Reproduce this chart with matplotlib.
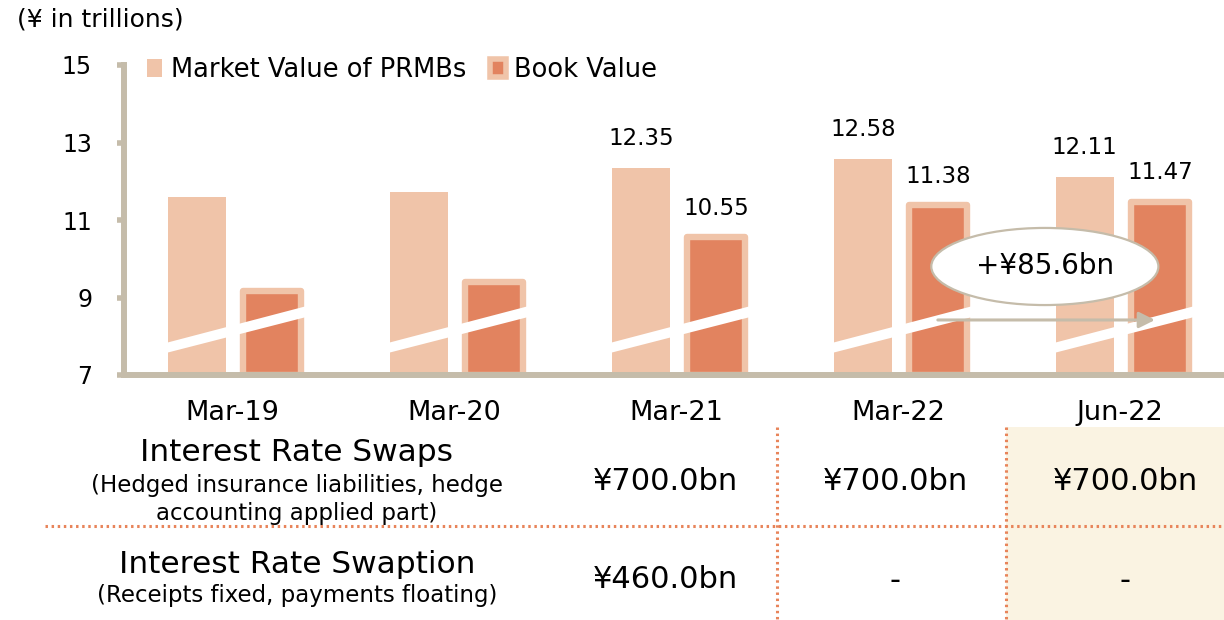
import matplotlib
matplotlib.use("Agg")
import matplotlib.pyplot as plt
from matplotlib.patches import Ellipse, Patch, Rectangle, Polygon
from matplotlib.lines import Line2D

# ---------------- data ----------------
categories = ['Mar-19', 'Mar-20', 'Mar-21', 'Mar-22', 'Jun-22']
market_value = [11.59, 11.73, 12.35, 12.58, 12.11]
book_value = [9.17, 9.40, 10.55, 11.38, 11.47]
show_labels = [False, False, True, True, True]
yticks = [7, 9, 11, 13, 15]
diff_label = '+¥85.6bn'

table_cols = ['Mar-21', 'Mar-22', 'Jun-22']
swaps_values = ['¥700.0bn', '¥700.0bn', '¥700.0bn']
swaption_values = ['¥460.0bn', '-', '-']
swaps_title = 'Interest Rate Swaps'
swaps_sub = ['(Hedged insurance liabilities, hedge', 'accounting applied part)']
swaption_title = 'Interest Rate Swaption'
swaption_sub = ['(Receipts fixed, payments floating)']

# ---------------- style ----------------
C_MARKET = '#F0C4A9'
C_BOOK = '#E2835F'
C_AXIS = '#C5BCAA'
C_DOT = '#E8845A'
C_CREAM = '#FAF3E2'

W, H = 1224, 620
fig = plt.figure(figsize=(W / 100, H / 100), dpi=100)


def fx(px):
    return px / W


def fy(py):
    return 1 - py / H


# axes: left spine at x=124px, bottom at y=375px (value 7), top at y=65px (value 15)
ax = fig.add_axes([fx(124), fy(375), fx(W - 124), 310 / H])
ax.set_ylim(7, 15)
ax.set_xlim(-0.486, 4.469)

x = list(range(len(categories)))
bw = 0.261
off_m, off_b = -0.158, 0.18

xm = [i + off_m for i in x]
xb = [i + off_b for i in x]
ax.bar(xm, [v - 7 for v in market_value], bottom=7, width=bw, color=C_MARKET, zorder=2)
ax.bar(xb, [v - 7 for v in book_value], bottom=7, width=bw, color=C_BOOK,
       edgecolor=C_MARKET, linewidth=4.6, joinstyle='round', zorder=2)

# axis break bands (white diagonal strips)
for i in x:
    x0 = i + off_m - bw / 2
    x1 = i + off_b + bw / 2 + 0.02
    poly = Polygon([(x0, 7.58), (x1, 8.49), (x1, 8.77), (x0, 7.84)],
                   closed=True, facecolor='white', edgecolor='none', zorder=3)
    ax.add_patch(poly)

# data labels
for i, show in enumerate(show_labels):
    if show:
        ax.annotate(f'{market_value[i]:.2f}', (xm[i], market_value[i]), xytext=(0, 13),
                    textcoords='offset points', ha='center', va='bottom', fontsize=16.5)
        ax.annotate(f'{book_value[i]:.2f}', (xb[i], book_value[i]), xytext=(0, 12.5),
                    textcoords='offset points', ha='center', va='bottom', fontsize=16.5)

# difference arrow + ellipse
ax.annotate('', xy=(4.158, 8.42), xytext=(xb[3], 8.42),
            arrowprops=dict(arrowstyle='-|>', color=C_AXIS, lw=2.2, mutation_scale=24,
                            shrinkA=0, shrinkB=0), zorder=5)
ell = Ellipse((3.662, 9.80), width=1.023, height=1.99, facecolor='white',
              edgecolor=C_AXIS, linewidth=1.6, zorder=6)
ax.add_patch(ell)
ax.text(3.662, 9.80, diff_label, ha='center', va='center', fontsize=20, zorder=7)

# spines / ticks
for s in ['top', 'right']:
    ax.spines[s].set_visible(False)
for s in ['left', 'bottom']:
    ax.spines[s].set_color(C_AXIS)
    ax.spines[s].set_linewidth(4.3)
    ax.spines[s].set_zorder(8)
ax.set_yticks(yticks)
ax.set_yticklabels([str(t) for t in yticks])
ax.tick_params(axis='y', length=5, width=4, color=C_AXIS, pad=18, labelsize=17)
ax.set_xticks(x)
ax.set_xticklabels(categories)
ax.tick_params(axis='x', length=0, pad=18, labelsize=19.5)

# legend
handles = [Patch(facecolor=C_MARKET, edgecolor='none'),
           Patch(facecolor=C_BOOK, edgecolor=C_MARKET, linewidth=4)]
fig.legend(handles, ['Market Value of PRMBs', 'Book Value'], loc='upper left',
           bbox_to_anchor=(fx(147), fy(57)), ncol=2, frameon=False, fontsize=18.5,
           handlelength=0.6, handleheight=0.75, handletextpad=0.32, columnspacing=0.95,
           borderpad=0, borderaxespad=0)

# unit label
fig.text(fx(17), fy(20), '(¥ in trillions)', ha='left', va='center', fontsize=18)

# ---------------- table ----------------
fig.patches.append(Rectangle((fx(1006), 0), fx(W - 1006), fy(427), transform=fig.transFigure,
                             facecolor=C_CREAM, edgecolor='none', zorder=0))
fig.lines.append(Line2D([fx(45), 1], [fy(526), fy(526)], transform=fig.transFigure,
                        color=C_DOT, linestyle=(0, (0.8, 1.2)), linewidth=2.2))
for vx in [777, 1006]:
    fig.lines.append(Line2D([fx(vx), fx(vx)], [fy(427), 0], transform=fig.transFigure,
                            color=C_DOT, linestyle=(0, (0.8, 1.2)), linewidth=2.2))

lab_cx = fx(297)
fig.text(lab_cx, fy(461), swaps_title, ha='center', va='baseline', fontsize=22.5)
for k, line in enumerate(swaps_sub):
    fig.text(lab_cx, fy(492 + 28 * k), line, ha='center', va='baseline', fontsize=16.5)
fig.text(lab_cx, fy(573), swaption_title, ha='center', va='baseline', fontsize=22.5)
for k, line in enumerate(swaption_sub):
    fig.text(lab_cx, fy(602 + 28 * k), line, ha='center', va='baseline', fontsize=16.5)

col_cx = [665, 895, 1125]
for cx, v1, v2 in zip(col_cx, swaps_values, swaption_values):
    fig.text(fx(cx), fy(481), v1, ha='center', va='center', fontsize=22)
    fig.text(fx(cx), fy(580), v2, ha='center', va='center', fontsize=22)

fig.savefig('out.png', dpi=100)
